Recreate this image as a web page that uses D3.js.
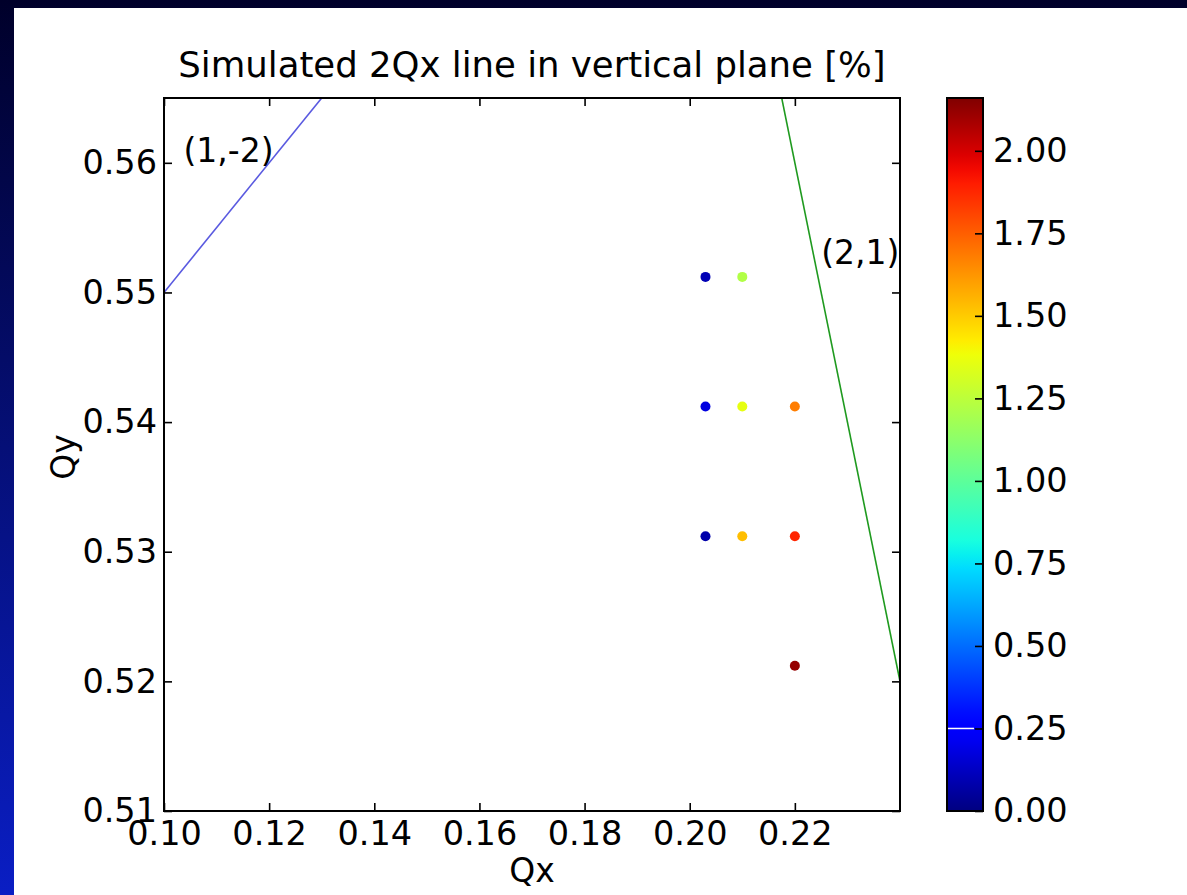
<!DOCTYPE html>
<html>
<head>
<meta charset="utf-8">
<script src="https://cdn.jsdelivr.net/npm/d3@7"></script>
<style>
  body { margin: 0; background: #fff; }
  text { font-family: "DejaVu Sans", sans-serif; fill: #000; }
</style>
</head>
<body>
<svg width="1187" height="895"></svg>
<script>
// tune measurements
var qx  = [0.203, 0.210, 0.203, 0.210, 0.220, 0.203, 0.210, 0.220, 0.220];
var qy  = [0.5512, 0.5512, 0.5412, 0.5412, 0.5412, 0.5312, 0.5312, 0.5312, 0.5212];
var amp = [0.10, 1.22, 0.18, 1.36, 1.68, 0.08, 1.53, 1.88, 2.12];

// resonance lines m*Qx + n*Qy = p
var resM = [1, 2];
var resN = [-2, 1];
var resP = [-1, 1];
var resName = ["(1,-2)", "(2,1)"];
var resLabelX = [0.1037, 0.2250];
var resLabelY = [0.5601, 0.5522];

var xTicks = [0.10, 0.12, 0.14, 0.16, 0.18, 0.20, 0.22];
var yTicks = [0.51, 0.52, 0.53, 0.54, 0.55, 0.56];
var cTicks = [0, 0.25, 0.5, 0.75, 1.0, 1.25, 1.5, 1.75, 2.0];

var xDomain = [0.10, 0.24];
var yDomain = [0.51, 0.565];
var cDomain = [0, 2.16];

// matplotlib jet
function jet(t) {
  t = Math.max(0, Math.min(1, t));
  function seg(pts) {
    for (var i = 1; i < pts.length; i++) {
      if (t <= pts[i][0]) {
        var a = pts[i-1], b = pts[i];
        return a[1] + (b[1] - a[1]) * (t - a[0]) / (b[0] - a[0]);
      }
    }
    return pts[pts.length-1][1];
  }
  var r = seg([[0,0],[0.35,0],[0.66,1],[0.89,1],[1,0.5]]);
  var g = seg([[0,0],[0.125,0],[0.375,1],[0.64,1],[0.91,0],[1,0]]);
  var b = seg([[0,0.5],[0.11,1],[0.34,1],[0.65,0],[1,0]]);
  return d3.rgb(r*255, g*255, b*255).toString();
}

var svg = d3.select("svg");

// slide background
var defs = svg.append("defs");
var bg = defs.append("linearGradient").attr("id", "bg")
    .attr("x1", 0).attr("y1", 0).attr("x2", 0).attr("y2", 1);
bg.append("stop").attr("offset", "0%").attr("stop-color", "#00002a");
bg.append("stop").attr("offset", "100%").attr("stop-color", "#0a1ec4");
svg.append("rect").attr("width", 1187).attr("height", 895).attr("fill", "url(#bg)");
svg.append("rect").attr("x", 14).attr("y", 8).attr("width", 1173).attr("height", 887).attr("fill", "#fff");

var x = d3.scaleLinear().domain(xDomain).range([164, 900]);
var y = d3.scaleLinear().domain(yDomain).range([811, 98]);
var c = d3.scaleLinear().domain(cDomain).range([811, 98]);

defs.append("clipPath").attr("id", "plot")
  .append("rect").attr("x", 164).attr("y", 98).attr("width", 736).attr("height", 713);

// resonance lines
var lineColors = ["#5a5ae0", "#1f9a1f"];
var plot = svg.append("g").attr("clip-path", "url(#plot)");
resM.forEach(function(m, i) {
  var pts = xDomain.map(function(v) {
    return [x(v), y((resP[i] - m * v) / resN[i])];
  });
  plot.append("line")
    .attr("x1", pts[0][0]).attr("y1", pts[0][1])
    .attr("x2", pts[1][0]).attr("y2", pts[1][1])
    .attr("stroke", lineColors[i])
    .attr("stroke-width", 1.6);
});

resName.forEach(function(n, i) {
  svg.append("text")
    .attr("x", x(resLabelX[i])).attr("y", y(resLabelY[i]))
    .style("font-size", "33px")
    .text(n);
});

// tune points
plot.selectAll(".pt")
  .data(d3.range(qx.length))
  .enter()
  .append("circle")
  .attr("class", "pt")
  .attr("cx", function(i) { return x(qx[i]); })
  .attr("cy", function(i) { return y(qy[i]); })
  .attr("r", 5)
  .style("fill", function(i) { return jet(amp[i] / cDomain[1]); });

// axes, ticks pointing inward
function styleAxis(g) {
  g.select(".domain").remove();
  g.selectAll(".tick line").attr("stroke", "#000").attr("stroke-width", 1.6);
  g.selectAll("text").style("font-size", "33.5px").style("font-family", "DejaVu Sans");
}

svg.append("g").attr("transform", "translate(0,811)")
  .call(d3.axisBottom(x).tickValues(xTicks).tickFormat(d3.format(".2f")).tickSize(-8).tickPadding(10))
  .call(styleAxis);
svg.append("g").attr("transform", "translate(0,98)")
  .call(d3.axisTop(x).tickValues(xTicks).tickFormat("").tickSize(-8))
  .call(styleAxis);
svg.append("g").attr("transform", "translate(164,0)")
  .call(d3.axisLeft(y).tickValues(yTicks).tickFormat(d3.format(".2f")).tickSize(-8).tickPadding(7))
  .call(styleAxis);
svg.append("g").attr("transform", "translate(900,0)")
  .call(d3.axisRight(y).tickValues(yTicks).tickFormat("").tickSize(-8))
  .call(styleAxis);

svg.append("rect").attr("x", 164).attr("y", 98).attr("width", 736).attr("height", 713)
  .attr("fill", "none").attr("stroke", "#000").attr("stroke-width", 2);

// titles
svg.append("text").attr("x", 532).attr("y", 77)
  .attr("text-anchor", "middle").style("font-size", "35.5px")
  .text("Simulated 2Qx line in vertical plane [%]");
svg.append("text").attr("x", 532).attr("y", 882)
  .attr("text-anchor", "middle").style("font-size", "33px")
  .text("Qx");
svg.append("text").attr("transform", "translate(75,457) rotate(-90)")
  .attr("text-anchor", "middle").style("font-size", "33px")
  .text("Qy");

// colorbar
var cg = defs.append("linearGradient").attr("id", "jet")
    .attr("x1", 0).attr("y1", 1).attr("x2", 0).attr("y2", 0);
d3.range(0, 1.0001, 0.02).forEach(function(t) {
  cg.append("stop").attr("offset", (t * 100) + "%").attr("stop-color", jet(t));
});
svg.append("rect").attr("x", 947).attr("y", 98).attr("width", 36).attr("height", 713)
  .attr("fill", "url(#jet)");
svg.append("line")
  .attr("x1", 947).attr("x2", 974).attr("y1", c(0.25)).attr("y2", c(0.25))
  .attr("stroke", "#fff").attr("stroke-width", 1.5);
svg.append("g").attr("transform", "translate(983,0)")
  .call(d3.axisRight(c).tickValues(cTicks).tickFormat(d3.format(".2f")).tickSize(-8).tickPadding(10))
  .call(styleAxis);
svg.append("rect").attr("x", 947).attr("y", 98).attr("width", 36).attr("height", 713)
  .attr("fill", "none").attr("stroke", "#000").attr("stroke-width", 2);
</script>
</body>
</html>
